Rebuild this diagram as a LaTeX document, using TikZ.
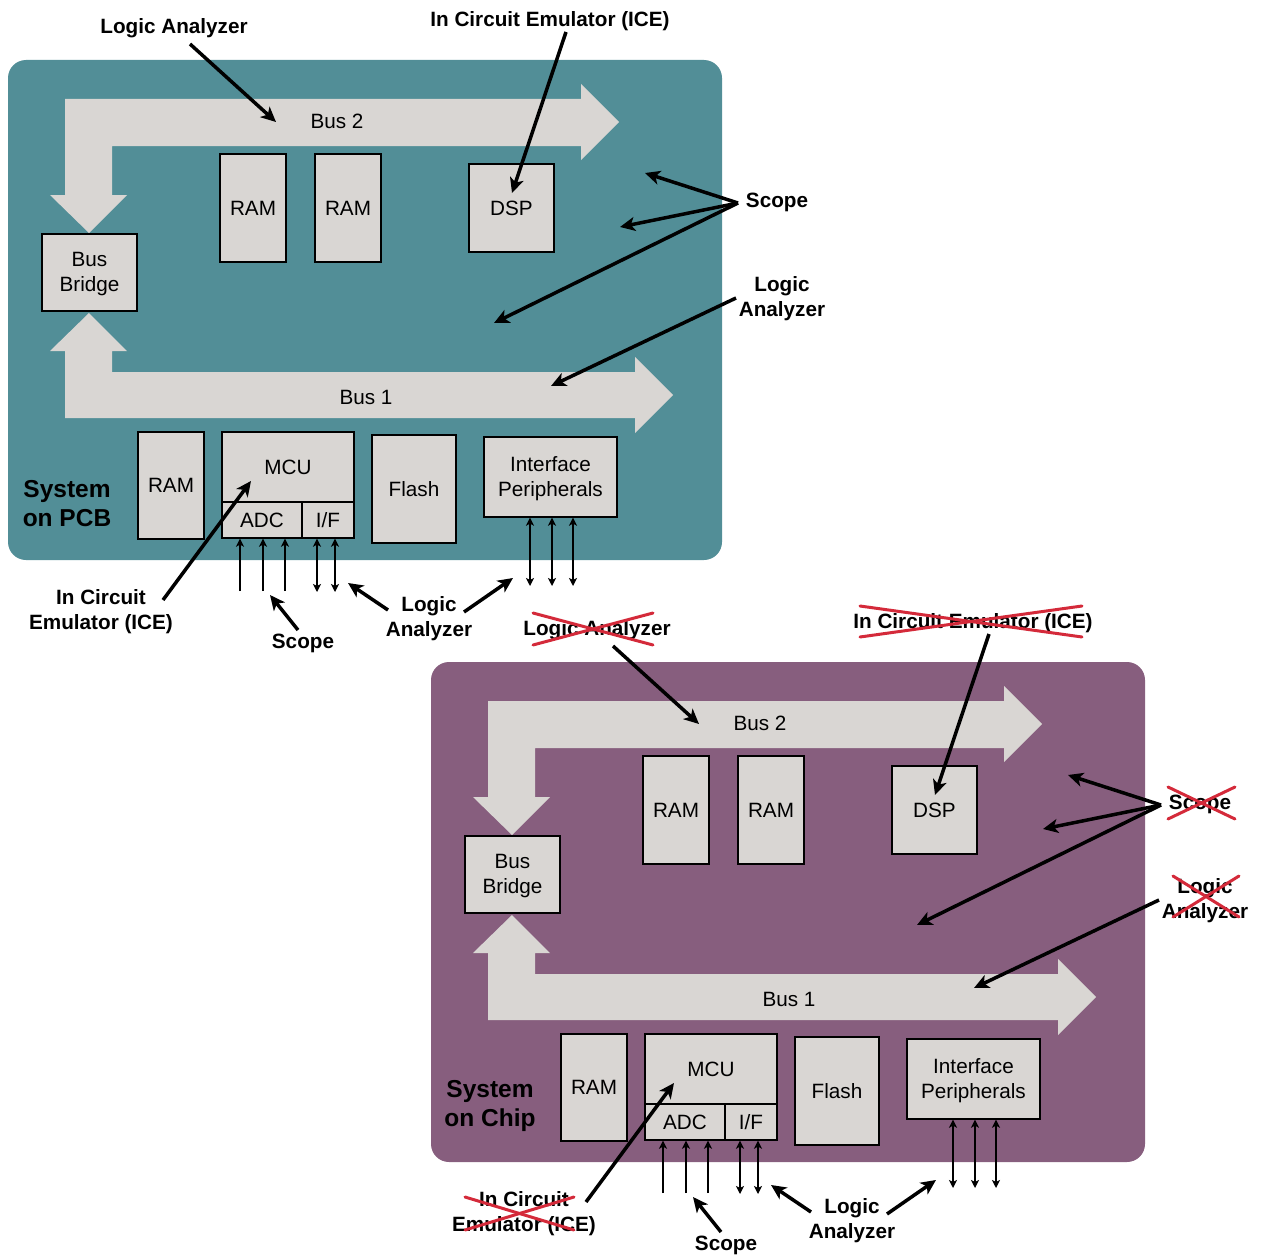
\documentclass[tikz,border=0pt]{standalone}
\usepackage{fontspec}
\setmainfont{Liberation Sans}
\usetikzlibrary{arrows.meta,calc}
\definecolor{teal1}{RGB}{82,142,151}
\definecolor{plum1}{RGB}{135,94,126}
\definecolor{boxgray}{RGB}{217,214,211}
\definecolor{xred}{RGB}{212,42,58}
\tikzset{
  blk/.style={draw=black, line width=1.4pt, fill=boxgray, inner sep=0pt, align=center, font=\fontsize{20.7}{25}\selectfont},
  lbl/.style={align=center, inner sep=1pt, yshift=-2pt, font=\fontsize{20.7}{25}\selectfont\bfseries},
  ttl/.style={align=center, inner sep=1pt, yshift=-1pt, font=\fontsize{24.5}{29}\selectfont\bfseries},
  buslbl/.style={inner sep=1pt, font=\fontsize{20.7}{25}\selectfont},
  busshape/.style={fill=boxgray, draw=none},
  bigarrow/.style={line width=3.5pt, -{Stealth[length=15pt,width=14pt,inset=4pt]}},
  sarrow/.style={line width=1.3pt, -{Stealth[length=8pt,width=8pt,inset=2pt]}},
  darrow/.style={line width=1.3pt, {Stealth[length=8pt,width=8pt,inset=2pt]}-{Stealth[length=8pt,width=8pt,inset=2pt]}},
  xmark/.style={draw=xred, line width=3pt, line cap=round},
}
\newcommand\panelbody[2]{%
  \fill[#1, rounded corners=18pt] (8,60) rectangle (722,560);
  \fill[busshape] (65,99) -- (581,99) -- (581,84) -- (619,122) -- (581,160) -- (581,146) -- (112,146) -- (112,195) -- (127,195) -- (89,233) -- (50,195) -- (65,195) -- cycle;
  \fill[busshape] (89,313) -- (127,351) -- (112,351) -- (112,372) -- (635,372) -- (635,357) -- (673,395) -- (635,433) -- (635,418) -- (65,418) -- (65,351) -- (50,351) -- cycle;
  \node[buslbl] (bus2) at (337,121) {Bus 2};
  \node[buslbl] (bus1) at (366,397) {Bus 1};
  \node[blk, minimum width=95pt, minimum height=77pt] (bb) at (89.5,272.5) {\strut Bus\\Bridge};
  \node[blk, minimum width=66pt, minimum height=108pt] (ramA) at (253,208) {RAM};
  \node[blk, minimum width=66pt, minimum height=108pt] (ramB) at (348,208) {RAM};
  \node[blk, minimum width=85pt, minimum height=88pt] (dsp) at (511.5,208) {DSP};
  \node[blk, minimum width=66pt, minimum height=107pt] (ramC) at (171,485.5) {RAM};
  \node[blk, minimum width=132pt, minimum height=70pt] (mcu) at (288,467) {MCU};
  \node[blk, minimum width=80pt, minimum height=36pt] (adc) at (262,520) {ADC};
  \node[blk, minimum width=52pt, minimum height=36pt] (iff) at (328,520) {I/F};
  \node[blk, minimum width=84pt, minimum height=108pt] (flash) at (414,489) {Flash};
  \node[blk, minimum width=133pt, minimum height=80pt] (ip) at (550.5,477) {\strut Interface\\Peripherals};
  \node[ttl] (title) at (67,503) {#2};
  % labels
  \node[lbl] (laA) at (174,26) {Logic Analyzer};
  \node[lbl] (iceA) at (550,19) {In Circuit Emulator (ICE)};
  \node[lbl] (scA) at (777,200) {Scope};
  \node[lbl] (laB) at (782,297) {Logic\\Analyzer};
  \node[lbl] (iceB) at (101,610) {In Circuit\\Emulator (ICE)};
  \node[lbl] (scB) at (303,641) {Scope};
  \node[lbl] (laC) at (429,617) {Logic\\Analyzer};
  % arrow targets
  \coordinate (tLaA) at (276,122);
  \coordinate (tIceA) at (512,193);
  \coordinate (tScA1) at (645,173);
  \coordinate (tScA2) at (620,227);
  \coordinate (tScA3) at (494,323);
  \coordinate (tLaB) at (551,386);
  \coordinate (tIceB) at (251,481);
  \coordinate (tScB) at (270,595);
  \coordinate (tLaC1) at (348,583);
  \coordinate (tLaC2) at (513,578);
  \draw[bigarrow] ($(laA)+(16,16)-(0,0)$) -- (tLaA);
  \draw[bigarrow] ($(iceA)+(16,11)-(0,0)$) -- (tIceA);
  \draw[bigarrow] ($(scA)+(-39,1)-(0,0)$) -- (tScA1);
  \draw[bigarrow] ($(scA)+(-39,1)-(0,0)$) -- (tScA2);
  \draw[bigarrow] ($(scA)+(-39,1)-(0,0)$) -- (tScA3);
  \draw[bigarrow] ($(laB)+(-46,-1)-(0,0)$) -- (tLaB);
  \draw[bigarrow] ($(iceB)+(62,-12)-(0,0)$) -- (tIceB);
  \draw[bigarrow] ($(scB)+(-5,-13)-(0,0)$) -- (tScB);
  \draw[bigarrow] ($(laC)+(-41,-9)-(0,0)$) -- (tLaC1);
  \draw[bigarrow] ($(laC)+(35,-7)-(0,0)$) -- (tLaC2);
  % signal lines
  \coordinate (a1) at (240,591);
  \coordinate (a2) at (263,591);
  \coordinate (a3) at (285,591);
  \coordinate (f1) at (317,592);
  \coordinate (f2) at (335,592);
  \coordinate (p1) at (530,586);
  \coordinate (p2) at (552,586);
  \coordinate (p3) at (573,586);
  \draw[sarrow] (a1) -- (a1 |- adc.south);
  \draw[sarrow] (a2) -- (a2 |- adc.south);
  \draw[sarrow] (a3) -- (a3 |- adc.south);
  \draw[darrow] (f1) -- (f1 |- iff.south);
  \draw[darrow] (f2) -- (f2 |- iff.south);
  \draw[darrow] (p1) -- (p1 |- ip.south);
  \draw[darrow] (p2) -- (p2 |- ip.south);
  \draw[darrow] (p3) -- (p3 |- ip.south);
}
\begin{document}
\begin{tikzpicture}[x=1pt, y=-1pt]
  \useasboundingbox (0,0) rectangle (1262,1255);
  \begin{scope}[name prefix=pcb-]
    \panelbody{teal1}{System\\on PCB}
  \end{scope}
  \begin{scope}[shift={(423,602)}, name prefix=soc-]
    \panelbody{plum1}{System\\on Chip}
    \draw[xmark] (110,11) -- (230,43);
    \draw[xmark] (110,43) -- (230,11);
    \draw[xmark] (437,4) -- (659,35);
    \draw[xmark] (437,35) -- (659,4);
    \draw[xmark] (745,185) -- (812,217);
    \draw[xmark] (745,217) -- (812,185);
    \draw[xmark] (750,274) -- (816,315);
    \draw[xmark] (750,315) -- (816,274);
    \draw[xmark] (42,595) -- (151,628);
    \draw[xmark] (42,628) -- (151,595);
  \end{scope}
\end{tikzpicture}
\end{document}
